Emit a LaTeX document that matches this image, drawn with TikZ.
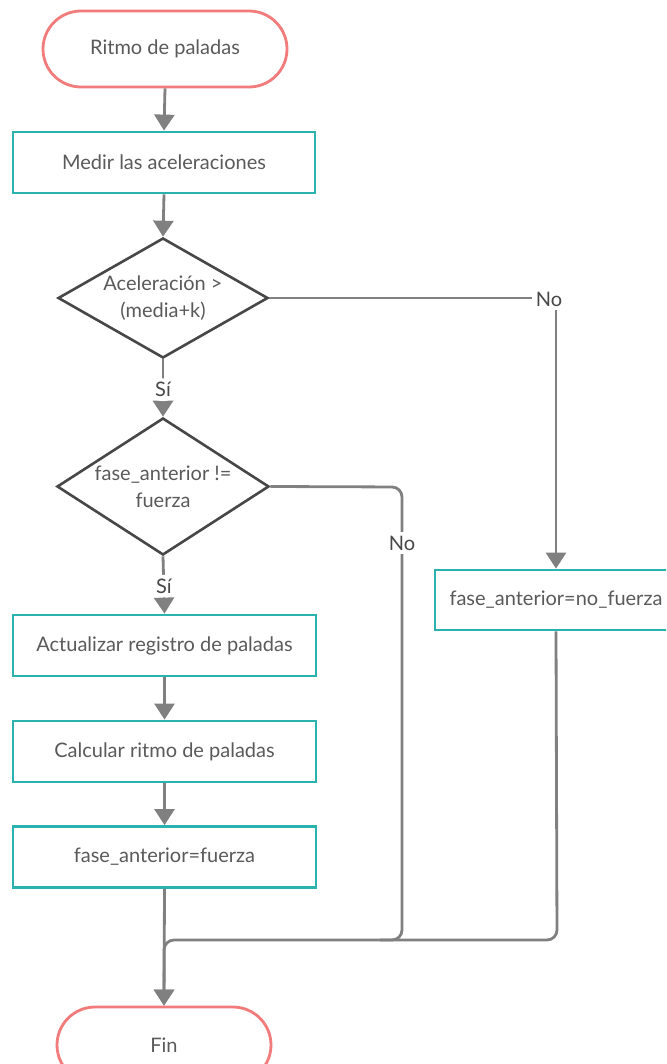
\documentclass[tikz,border=0pt]{standalone}
\usepackage{fontspec}
\setmainfont{Lato}
\usetikzlibrary{arrows.meta,shapes.geometric,shapes.misc}

\definecolor{termred}{HTML}{F27B7B}
\definecolor{procteal}{HTML}{2AB2AE}
\definecolor{linegray}{HTML}{808080}
\definecolor{decgray}{HTML}{474747}
\definecolor{txtgray}{HTML}{5A5A5A}

\tikzset{
  x=1pt, y=1pt,
  every node/.style={font=\fontsize{20}{27}\selectfont, text=txtgray},
  terminal/.style={draw=termred, line width=2.8pt, rounded rectangle, fill=white,
    minimum height=76pt, inner sep=0pt},
  procbox/.style={draw=procteal, line width=2.8pt, rectangle, fill=white,
    minimum height=61pt, inner sep=0pt},
  decision/.style={draw=decgray, line width=2.6pt, diamond, fill=white,
    inner sep=0pt, align=center},
  flow/.style={draw=linegray, line width=2.8pt, rounded corners=10pt},
  arr/.style={flow, -{Triangle[width=20pt,length=16pt]}},
  lbl/.style={fill=white, inner sep=4pt, text=txtgray!80!black},
}

\begin{document}
\begin{tikzpicture}
\useasboundingbox (0,0) rectangle (666,-1064);
\clip (0,0) rectangle (666,-1064);

% main column
\node[terminal, minimum width=244pt] (start) at (165,-49) {Ritmo de paladas};
\node[procbox, minimum width=302pt] (medir) at (164,-162.5) {Medir las aceleraciones};
\node[decision, minimum width=210pt, minimum height=120pt, aspect=1.75] (d1) at (163,-298)
  {Aceleración >\\(media+k)};
\node[decision, minimum width=212pt, minimum height=137pt, aspect=1.55] (d2) at (163,-486.5)
  {fase\_anterior !=\\fuerza};
\node[procbox, minimum width=303pt] (act) at (164.5,-645.5) {Actualizar registro de paladas};
\node[procbox, minimum width=303pt] (calc) at (164.5,-751.5) {Calcular ritmo de paladas};
\node[procbox, minimum width=303pt] (faf) at (164.5,-857) {fase\_anterior=fuerza};
\node[terminal, minimum width=214pt] (fin) at (164,-1045) {Fin};

% right branch
\node[procbox, minimum width=242pt, minimum height=60pt] (nof) at (556,-600) {fase\_anterior=no\_fuerza};

% routing points
\coordinate (c1) at (556,-298);
\coordinate (c2) at (402,-487);
\coordinate (c3) at (402,-940);
\coordinate (c4) at (557,-940);
\coordinate (c5) at (164,-940);
\coordinate (c6) at (380,-940);

% connectors
\draw[arr] (start.south) -- (medir.north);
\draw[arr] (medir.south) -- (d1.north);
\draw[arr] (d1.south) -- node[lbl, pos=0.53] {Sí} (d2.north);
\draw[arr] (d2.south) -- node[lbl, pos=0.52] {Sí} (act.north);
\draw[arr] (act.south) -- (calc.north);
\draw[arr] (calc.south) -- (faf.north);
\draw[arr] (faf.south) -- (fin.north);

\draw[arr, rounded corners=0pt] (d1.east) -- (c1) -- (nof.north);
\node[lbl] (no1) at (549,-299) {No};

\draw[flow] (d2.east) -- (c2) -- (c3) -- (c6);
\node[lbl] (no2) at (402,-543) {No};

\draw[arr] (nof.south) -- (c4) -- (c5) -- (fin.north);
\end{tikzpicture}
\end{document}
